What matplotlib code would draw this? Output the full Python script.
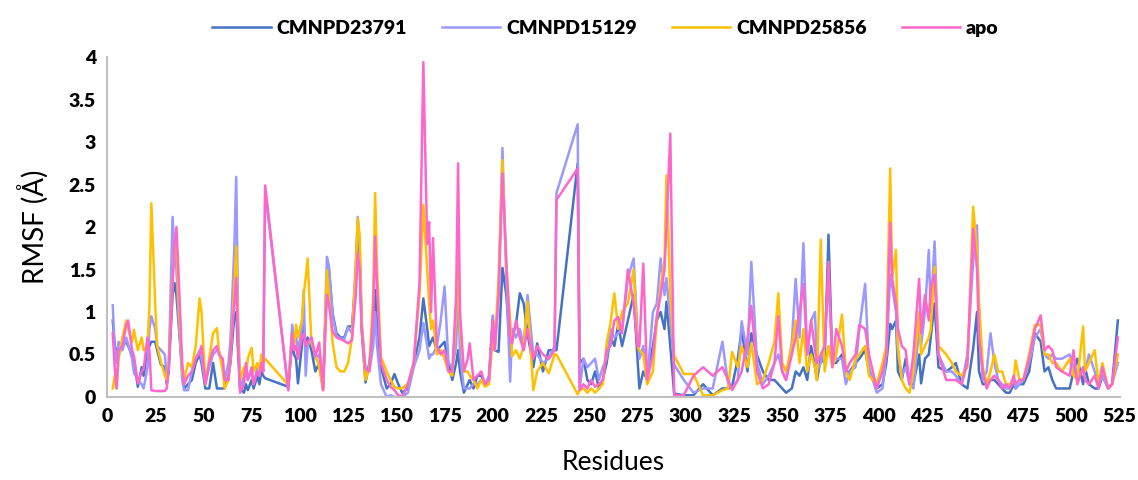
import matplotlib
matplotlib.use("Agg")
import matplotlib.pyplot as plt

# residue numbers shared by all four runs
residues = [
    3, 4, 5, 6, 8, 10, 11, 13, 14, 16, 18, 19, 21, 22, 23, 25, 26, 28, 30, 31,
    32, 34, 35, 36, 37, 39, 40, 42, 44, 46, 48, 49, 51, 53, 55, 57, 58, 60, 61, 63,
    64, 66, 67, 68, 69, 71, 72, 73, 75, 76, 78, 79, 80, 81, 82, 94,
    96, 97, 98, 99, 101, 102, 103, 104, 106, 108, 110, 112, 114, 115, 117, 119,
    121, 123, 125, 127, 129, 130, 131, 132, 134, 136, 138, 139, 140, 142, 145,
    147, 149, 151, 153, 156, 159, 162, 164, 166, 167, 168, 169, 171, 173, 175,
    177, 179, 181, 182, 183, 185, 187, 188, 190, 192, 194, 196,
    198, 200, 201, 203, 205, 207, 209, 210, 212, 214, 216, 218, 221, 223, 226,
    229, 232, 233, 244, 245, 247, 249, 251, 253, 255, 257, 259, 261, 263, 265,
    267, 270, 273, 275, 276, 278, 280, 283, 285, 287, 289, 290, 292, 294,
    299, 304, 309, 314, 319, 322, 324, 327, 329, 332, 334, 337, 340, 343, 346,
    348, 350, 352, 355, 357, 359, 361, 363, 365, 367, 368, 370, 372, 374, 376,
    378, 381, 383, 385, 388, 390, 393,
    395, 399, 402, 404, 406, 407, 409, 410, 412, 414, 416, 418, 421, 422, 424,
    426, 427, 429, 431, 435, 438, 440, 443, 446, 449, 451, 452, 454, 456, 458,
    460, 462, 464, 466, 468, 470, 471, 473, 475, 478, 481, 484, 486, 488, 490,
    492, 495, 499, 501, 503, 506, 507, 509, 512, 514, 516, 519, 521, 524,
]

cmnpd23791 = [
    0.90, 0.60, 0.55, 0.50, 0.60, 0.65, 0.60, 0.50, 0.43, 0.12, 0.35, 0.25, 0.55, 0.60, 0.65, 0.65, 0.55, 0.38, 0.35, 0.15,
    0.30, 1.20, 1.34, 1.20, 0.90, 0.30, 0.10, 0.15, 0.20, 0.40, 0.50, 0.40, 0.10, 0.10, 0.40, 0.10, 0.10, 0.10, 0.10, 0.25,
    0.40, 0.95, 1.00, 0.50, 0.10, 0.05, 0.15, 0.08, 0.20, 0.10, 0.25, 0.15, 0.30, 0.25, 0.22, 0.12,
    0.65, 0.50, 0.45, 0.16, 0.60, 0.87, 0.55, 0.70, 0.55, 0.30, 0.40, 0.10, 1.40, 1.52, 0.98, 0.75,
    0.70, 0.70, 0.83, 0.83, 1.40, 1.95, 1.60, 0.80, 0.17, 0.40, 0.80, 1.26, 0.90, 0.35, 0.10,
    0.15, 0.27, 0.15, 0.05, 0.10, 0.40, 0.70, 1.16, 0.80, 0.60, 0.65, 0.70, 0.55, 0.60, 0.65,
    0.40, 0.20, 0.40, 0.55, 0.30, 0.05, 0.15, 0.20, 0.10, 0.25, 0.25, 0.15,
    0.20, 0.94, 0.55, 0.53, 1.52, 1.20, 0.55, 0.70, 0.85, 1.22, 1.10, 0.75, 0.35, 0.63, 0.30,
    0.55, 0.55, 0.55, 2.75, 0.40, 0.45, 0.20, 0.15, 0.30, 0.10, 0.20, 0.40, 0.71, 0.60, 0.85,
    0.60, 0.90, 1.20, 0.45, 0.10, 0.30, 0.20, 0.60, 0.90, 1.00, 0.80, 1.12, 0.60, 0.04,
    0.02, 0.02, 0.15, 0.02, 0.10, 0.10, 0.12, 0.45, 0.80, 0.30, 0.75, 0.49, 0.30, 0.20, 0.20,
    0.15, 0.10, 0.05, 0.10, 0.30, 0.25, 0.35, 0.20, 0.60, 0.35, 0.20, 0.45, 0.40, 1.91, 0.40,
    0.40, 0.50, 0.30, 0.30, 0.40, 0.45, 0.55,
    0.30, 0.10, 0.15, 0.40, 0.86, 0.80, 0.90, 0.30, 0.20, 0.45, 0.15, 0.15, 0.50, 0.16, 0.45,
    0.50, 0.70, 1.10, 0.35, 0.30, 0.35, 0.40, 0.15, 0.10, 0.57, 1.00, 0.30, 0.15, 0.15, 0.20,
    0.20, 0.15, 0.10, 0.05, 0.05, 0.15, 0.10, 0.15, 0.15, 0.30, 0.75, 0.65, 0.30, 0.35, 0.20,
    0.10, 0.10, 0.10, 0.30, 0.45, 0.15, 0.35, 0.15, 0.10, 0.10, 0.25, 0.10, 0.15, 0.90,
]

cmnpd15129 = [
    1.08, 0.57, 0.40, 0.65, 0.55, 0.70, 0.62, 0.45, 0.28, 0.20, 0.15, 0.10, 0.35, 0.80, 0.95, 0.80, 0.60, 0.55, 0.50, 0.20,
    0.35, 2.12, 1.70, 1.50, 1.00, 0.20, 0.08, 0.08, 0.30, 0.45, 0.55, 0.45, 0.15, 0.35, 0.50, 0.55, 0.55, 0.35, 0.20, 0.40,
    0.67, 1.75, 2.59, 0.90, 0.10, 0.25, 0.35, 0.20, 0.30, 0.15, 0.35, 0.25, 0.40, 0.30, 2.42, 0.08,
    0.85, 0.65, 0.70, 0.55, 0.80, 1.26, 0.25, 0.60, 0.70, 0.45, 0.50, 0.10, 1.65, 1.55, 0.95, 0.72,
    0.69, 0.68, 0.82, 0.75, 1.60, 2.12, 1.80, 0.90, 0.30, 0.30, 0.60, 1.00, 0.60, 0.15, 0.00,
    0.02, 0.00, 0.00, 0.00, 0.05, 0.35, 0.55, 0.87, 0.60, 0.45, 0.50, 0.50, 0.60, 0.90, 1.30,
    0.40, 0.35, 0.60, 1.30, 0.50, 0.10, 0.10, 0.10, 0.15, 0.15, 0.20, 0.15,
    0.25, 0.96, 0.55, 1.20, 2.93, 1.40, 0.18, 0.80, 0.70, 0.80, 0.60, 1.20, 0.50, 0.50, 0.40,
    0.45, 0.60, 2.40, 3.21, 0.10, 0.45, 0.35, 0.40, 0.45, 0.20, 0.35, 0.45, 0.80, 0.70, 0.75,
    0.80, 1.40, 1.63, 0.75, 0.45, 0.60, 0.20, 1.00, 1.10, 1.63, 1.20, 1.40, 0.90, 0.38,
    0.20, 0.05, 0.10, 0.10, 0.65, 0.15, 0.10, 0.20, 0.89, 0.50, 1.59, 0.40, 0.15, 0.25, 0.40,
    0.50, 0.30, 0.20, 0.65, 1.39, 0.70, 1.81, 0.50, 0.90, 1.00, 0.30, 0.40, 0.60, 1.40, 0.50,
    0.45, 0.45, 0.15, 0.30, 0.35, 0.80, 1.33,
    0.35, 0.05, 0.10, 0.50, 1.44, 1.30, 1.00, 0.50, 0.25, 0.35, 0.15, 0.10, 0.80, 0.60, 1.00,
    1.73, 1.00, 1.83, 0.50, 0.30, 0.30, 0.25, 0.15, 0.50, 1.60, 2.02, 0.90, 0.20, 0.30, 0.75,
    0.40, 0.20, 0.15, 0.10, 0.10, 0.20, 0.10, 0.15, 0.20, 0.40, 0.70, 0.80, 0.50, 0.45, 0.50,
    0.45, 0.45, 0.50, 0.35, 0.20, 0.35, 0.30, 0.50, 0.30, 0.15, 0.25, 0.10, 0.15, 0.40,
]

cmnpd25856 = [
    0.10, 0.25, 0.10, 0.45, 0.70, 0.90, 0.80, 0.65, 0.79, 0.55, 0.70, 0.55, 0.60, 1.06, 2.28, 1.10, 0.60, 0.41, 0.25, 0.20,
    0.40, 1.40, 1.70, 1.90, 1.20, 0.30, 0.20, 0.40, 0.35, 0.60, 1.16, 1.00, 0.15, 0.45, 0.75, 0.81, 0.55, 0.30, 0.10, 0.20,
    0.45, 1.30, 1.77, 0.70, 0.20, 0.35, 0.25, 0.45, 0.58, 0.30, 0.40, 0.30, 0.50, 0.40, 0.45, 0.14,
    0.75, 0.60, 0.85, 0.70, 0.90, 1.20, 1.40, 1.63, 0.63, 0.50, 0.35, 0.08, 1.49, 1.20, 0.63, 0.35,
    0.30, 0.30, 0.40, 0.70, 1.50, 2.10, 1.90, 0.90, 0.20, 0.35, 1.20, 2.40, 1.50, 0.47, 0.30,
    0.20, 0.12, 0.10, 0.10, 0.16, 0.40, 1.20, 2.26, 1.50, 1.10, 0.80, 0.90, 0.50, 0.55, 0.45,
    0.30, 0.25, 1.00, 1.80, 0.80, 0.30, 0.30, 0.25, 0.20, 0.10, 0.20, 0.12,
    0.15, 0.70, 0.60, 1.40, 2.79, 1.50, 0.90, 0.48, 0.55, 0.45, 0.60, 1.12, 0.08, 0.30, 0.40,
    0.28, 0.50, 0.50, 0.03, 0.08, 0.10, 0.05, 0.10, 0.05, 0.10, 0.15, 0.63, 0.87, 1.22, 0.80,
    1.00, 1.10, 1.50, 0.60, 0.55, 0.50, 0.15, 0.30, 0.90, 1.30, 1.60, 2.61, 1.20, 0.49,
    0.27, 0.27, 0.02, 0.02, 0.08, 0.10, 0.53, 0.35, 0.60, 0.35, 0.63, 0.15, 0.20, 0.40, 0.65,
    1.22, 0.40, 0.30, 0.60, 0.90, 0.40, 0.80, 0.30, 0.50, 0.35, 0.20, 1.85, 0.30, 0.60, 0.35,
    0.50, 0.97, 0.30, 0.20, 0.45, 0.50, 0.60,
    0.25, 0.15, 0.40, 0.60, 2.69, 1.40, 1.73, 0.60, 0.20, 0.10, 0.05, 0.30, 1.00, 0.50, 0.60,
    0.70, 0.80, 1.53, 0.60, 0.50, 0.40, 0.30, 0.25, 0.35, 2.24, 1.70, 1.14, 0.35, 0.15, 0.30,
    0.50, 0.30, 0.30, 0.15, 0.15, 0.20, 0.43, 0.20, 0.20, 0.50, 0.85, 0.85, 0.50, 0.50, 0.40,
    0.40, 0.30, 0.45, 0.25, 0.20, 0.83, 0.30, 0.40, 0.55, 0.15, 0.40, 0.10, 0.15, 0.50,
]

apo = [
    0.75, 0.35, 0.10, 0.55, 0.60, 0.85, 0.90, 0.55, 0.48, 0.16, 0.30, 0.33, 0.70, 0.55, 0.08, 0.07, 0.07, 0.07, 0.07, 0.10,
    0.35, 1.30, 1.80, 2.00, 1.50, 0.40, 0.15, 0.25, 0.30, 0.45, 0.52, 0.60, 0.15, 0.40, 0.55, 0.60, 0.50, 0.45, 0.20, 0.20,
    0.50, 1.10, 1.40, 0.60, 0.05, 0.15, 0.40, 0.20, 0.35, 0.15, 0.30, 0.25, 0.40, 0.30, 2.49, 0.08,
    0.75, 0.55, 0.60, 0.45, 0.70, 0.75, 0.60, 0.65, 0.70, 0.48, 0.64, 0.08, 1.20, 1.10, 0.77, 0.70,
    0.68, 0.66, 0.63, 0.67, 1.20, 1.69, 1.50, 0.80, 0.33, 0.30, 1.00, 1.89, 1.30, 0.40, 0.20,
    0.12, 0.08, 0.02, 0.00, 0.15, 0.40, 1.34, 3.94, 1.80, 2.06, 1.00, 1.87, 0.60, 0.50, 0.55,
    0.30, 0.30, 1.20, 2.75, 1.00, 0.30, 0.45, 0.63, 0.20, 0.25, 0.30, 0.15,
    0.20, 0.90, 0.55, 1.20, 2.63, 1.60, 0.70, 0.63, 0.90, 0.70, 0.55, 0.80, 0.45, 0.60, 0.50,
    0.45, 0.55, 2.32, 2.69, 0.08, 0.15, 0.10, 0.20, 0.12, 0.15, 0.20, 0.55, 0.60, 0.90, 0.94,
    0.75, 1.50, 1.10, 0.60, 0.60, 1.57, 0.20, 0.50, 0.95, 1.20, 1.50, 2.00, 3.10, 0.02,
    0.02, 0.25, 0.35, 0.25, 0.35, 0.20, 0.08, 0.20, 0.30, 0.68, 1.07, 0.30, 0.10, 0.15, 0.40,
    0.95, 0.30, 0.20, 0.50, 0.70, 1.00, 1.33, 0.50, 0.90, 0.55, 0.40, 0.50, 0.60, 1.59, 0.35,
    0.80, 0.60, 0.30, 0.40, 0.50, 0.85, 0.80,
    0.50, 0.10, 0.30, 0.50, 2.05, 1.40, 1.10, 0.80, 0.60, 0.55, 0.15, 0.50, 1.39, 0.75, 1.20,
    0.90, 1.30, 1.44, 0.50, 0.20, 0.20, 0.20, 0.15, 0.40, 1.98, 1.50, 0.70, 0.30, 0.10, 0.20,
    0.25, 0.20, 0.10, 0.15, 0.10, 0.25, 0.15, 0.20, 0.20, 0.45, 0.80, 0.96, 0.55, 0.60, 0.55,
    0.35, 0.30, 0.25, 0.55, 0.15, 0.35, 0.20, 0.15, 0.25, 0.10, 0.35, 0.10, 0.15, 0.70,
]

series = [
    ("CMNPD23791", cmnpd23791, "#4472C4"),
    ("CMNPD15129", cmnpd15129, "#9999FF"),
    ("CMNPD25856", cmnpd25856, "#FFC000"),
    ("apo", apo, "#FF66CC"),
]

plt.rcParams['font.family'] = ['Lato', 'DejaVu Sans']

fig = plt.figure(figsize=(11.38, 4.8), dpi=100)
ax = fig.add_axes([0.094, 0.173, 0.89, 0.708])

for name, vals, col in series:
    ax.plot(residues, vals, color=col, lw=1.8, label=name)

ax.set_xlim(0, 525)
ax.set_ylim(0, 4)
ax.set_xticks(range(0, 526, 25))
ax.set_yticks([0, 0.5, 1, 1.5, 2, 2.5, 3, 3.5, 4])
ax.set_yticklabels(['0', '0.5', '1', '1.5', '2', '2.5', '3', '3.5', '4'])
ax.tick_params(length=0, labelsize=14, pad=8)
for lbl in ax.get_xticklabels() + ax.get_yticklabels():
    lbl.set_fontweight('heavy')

for side in ['top', 'right']:
    ax.spines[side].set_visible(False)
for side in ['left', 'bottom']:
    ax.spines[side].set_color('#BFBFBF')
    ax.spines[side].set_linewidth(1.5)

ax.set_ylabel('RMSF (Å)', fontsize=20, labelpad=14)
ax.set_xlabel('Residues', fontsize=19, labelpad=18)

fig.legend(loc='upper center', bbox_to_anchor=(0.532, 0.995), ncol=4, frameon=False,
           prop={'weight': 'heavy', 'size': 14}, handlelength=3.0, columnspacing=1.8,
           handletextpad=0.3)

fig.savefig('out.png', dpi=100)
